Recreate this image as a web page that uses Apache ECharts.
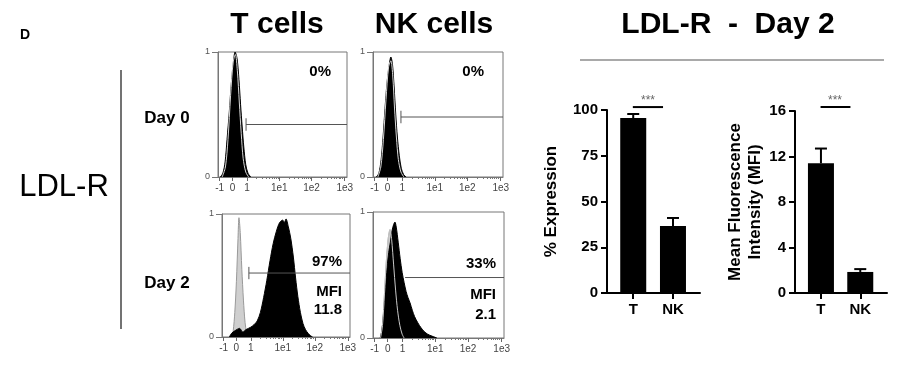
<!DOCTYPE html>
<html>
<head>
<meta charset="utf-8">
<script src="https://cdn.jsdelivr.net/npm/echarts@6/dist/echarts.min.js"></script>
<style>
html, body { margin: 0; padding: 0; background: #fff; }
#main { width: 914px; height: 376px; }
</style>
</head>
<body>
<div id="main"></div>
<script>
// 直方图横轴刻度 (biexponential 显示单位)
var histTicks = [0, 0.4, 0.85, 1.85, 2.85, 3.88];
var histTickLabels = ['-1', '0', '1', '1e1', '1e2', '1e3'];
var decadeStarts = [0.85, 1.85, 2.85];

// T cells Day 0
var tDay0 = [[0.02,0],[0.1,0.03],[0.17,0.12],[0.23,0.3],[0.3,0.52],[0.36,0.74],[0.42,0.9],[0.48,1.0],[0.54,0.95],[0.6,0.78],[0.65,0.58],[0.7,0.4],[0.75,0.24],[0.81,0.1],[0.88,0.03],[0.97,0]];
var tDay0Ctrl = [[0.08,0],[0.18,0.08],[0.26,0.3],[0.34,0.65],[0.42,0.92],[0.49,0.98],[0.55,0.85],[0.61,0.6],[0.67,0.35],[0.73,0.15],[0.81,0.04],[0.9,0]];
// NK cells Day 0
var nkDay0 = [[0.05,0],[0.13,0.03],[0.2,0.14],[0.26,0.32],[0.32,0.55],[0.38,0.75],[0.44,0.88],[0.5,0.96],[0.55,0.9],[0.6,0.72],[0.65,0.5],[0.7,0.32],[0.76,0.17],[0.82,0.07],[0.89,0.02],[0.97,0]];
var nkDay0Ctrl = [[0.1,0],[0.19,0.08],[0.27,0.3],[0.35,0.62],[0.43,0.88],[0.5,0.93],[0.56,0.8],[0.61,0.56],[0.67,0.32],[0.73,0.14],[0.81,0.04],[0.9,0]];
// T cells Day 2
var tDay2 = [[0.18,0],[0.25,0.03],[0.35,0.05],[0.5,0.07],[0.6,0.04],[0.7,0.06],[0.85,0.08],[0.95,0.1],[1.05,0.13],[1.15,0.2],[1.25,0.32],[1.35,0.46],[1.45,0.62],[1.55,0.76],[1.65,0.86],[1.75,0.93],[1.85,0.95],[1.9,0.93],[1.95,0.96],[2.02,0.9],[2.1,0.8],[2.18,0.65],[2.25,0.48],[2.32,0.33],[2.4,0.2],[2.48,0.11],[2.56,0.06],[2.64,0.03],[2.72,0.01],[2.78,0]];
var tDay2Ctrl = [[0.25,0],[0.3,0.05],[0.35,0.2],[0.4,0.45],[0.45,0.8],[0.48,0.97],[0.52,0.85],[0.57,0.55],[0.62,0.3],[0.67,0.12],[0.72,0.03],[0.76,0]];
// NK cells Day 2
var nkDay2 = [[0.17,0],[0.22,0.06],[0.28,0.22],[0.33,0.4],[0.38,0.56],[0.43,0.68],[0.48,0.76],[0.53,0.85],[0.58,0.9],[0.62,0.92],[0.66,0.88],[0.72,0.76],[0.78,0.63],[0.84,0.52],[0.9,0.44],[0.96,0.37],[1.02,0.32],[1.08,0.28],[1.15,0.22],[1.22,0.17],[1.32,0.12],[1.42,0.08],[1.52,0.05],[1.62,0.03],[1.75,0.015],[1.9,0]];
var nkDay2Ctrl = [[0.18,0],[0.24,0.1],[0.3,0.35],[0.36,0.62],[0.42,0.8],[0.47,0.86],[0.52,0.78],[0.58,0.58],[0.64,0.38],[0.7,0.22],[0.77,0.1],[0.84,0.03],[0.9,0]];

// 门 (gate): [起点, 高度]
var gates = [[0.82, 0.42], [0.81, 0.48], [0.79, 0.52], [0.93, 0.48]];

// 柱状图数据
var barCats = ['T', 'NK'];
var expMean = [95.6, 36.6];
var expErr = [97.8, 41.0];
var mfiMean = [11.4, 1.85];
var mfiErr = [12.7, 2.1];

var FONT = '"Liberation Sans", Arial, sans-serif';

var minorTicks = [];
for (var d = 0; d < decadeStarts.length; d++) {
    for (var k = 2; k < 10; k++) {
        minorTicks.push(decadeStarts[d] + Math.log10(k));
    }
}

var histGrids = [
    {left: 218, top: 52, width: 129, height: 125},
    {left: 373, top: 52, width: 130, height: 125},
    {left: 222, top: 214, width: 128, height: 123},
    {left: 373, top: 212, width: 131, height: 126}
];

var grids = [];
var xAxes = [];
var yAxes = [];
var series = [];

for (var i = 0; i < histGrids.length; i++) {
    var g = histGrids[i];
    grids.push({left: g.left, top: g.top, width: g.width, height: g.height,
        show: true, borderColor: '#777', borderWidth: 1, backgroundColor: 'transparent'});
    // 主刻度
    xAxes.push({type: 'value', gridIndex: i, position: 'bottom', min: -0.05, max: 3.95,
        axisLine: {show: true, onZero: false, lineStyle: {color: '#777'}},
        axisTick: {show: true, length: 4, customValues: histTicks, lineStyle: {color: '#666'}},
        axisLabel: {customValues: histTicks, fontSize: 10, color: '#444', margin: 6, fontFamily: FONT,
            formatter: function (v) {
                var idx = histTicks.indexOf(v);
                return idx >= 0 ? histTickLabels[idx] : '';
            }},
        splitLine: {show: false}});
    // 次刻度
    xAxes.push({type: 'value', gridIndex: i, position: 'bottom', min: -0.05, max: 3.95,
        axisLine: {show: false, onZero: false},
        axisTick: {show: true, length: 2, customValues: minorTicks, lineStyle: {color: '#777'}},
        axisLabel: {show: false},
        splitLine: {show: false}});
    yAxes.push({type: 'value', gridIndex: i, min: 0, max: 1, interval: 1,
        axisLine: {show: true, onZero: false, lineStyle: {color: '#777'}},
        axisTick: {show: true, length: 6, lineStyle: {color: '#777'}},
        axisLabel: {fontSize: 9, color: '#555', margin: 8, fontFamily: FONT},
        splitLine: {show: false}});
}

function histSeries(idx, data, fill, line, z) {
    return {type: 'line', xAxisIndex: idx * 2, yAxisIndex: idx, data: data,
        symbol: 'none', smooth: 0.3, z: z, silent: true,
        lineStyle: {color: line, width: 1},
        areaStyle: fill ? {color: fill, opacity: 1} : undefined};
}
function ctrlLine(idx, data, color, z) {
    return {type: 'line', xAxisIndex: idx * 2, yAxisIndex: idx, data: data,
        symbol: 'none', smooth: 0.3, z: z, silent: true,
        lineStyle: {color: color, width: 1}};
}

// Day 0
series.push(histSeries(0, tDay0, '#000', '#000', 2));
series.push(ctrlLine(0, tDay0Ctrl, '#d8d8d8', 3));
series.push(histSeries(1, nkDay0, '#000', '#000', 2));
series.push(ctrlLine(1, nkDay0Ctrl, '#d8d8d8', 3));
// Day 2
series.push(histSeries(2, tDay2Ctrl, '#cfcfcf', '#999', 1));
series.push(histSeries(2, tDay2, '#000', '#000', 2));
series.push(histSeries(3, nkDay2Ctrl, '#cfcfcf', '#999', 1));
series.push(histSeries(3, nkDay2, '#000', '#000', 2));
series.push(ctrlLine(3, nkDay2Ctrl, '#c8c8c8', 3));

// gates
for (var j = 0; j < gates.length; j++) {
    var gx = gates[j][0], gy = gates[j][1];
    series.push({type: 'line', xAxisIndex: j * 2, yAxisIndex: j, symbol: 'none', silent: true, z: 4,
        lineStyle: {color: '#555', width: 1}, data: [[gx, gy], [3.95, gy]]});
    if (j < 3) {
        series.push({type: 'line', xAxisIndex: j * 2, yAxisIndex: j, symbol: 'none', silent: true, z: 4,
            lineStyle: {color: '#555', width: 1}, data: [[gx, gy - 0.05], [gx, gy + 0.05]]});
    }
}

// 柱状图区域
var barGrids = [
    {left: 607, top: 110, width: 93, height: 183, max: 100, interval: 25, mean: expMean, err: expErr, sig: 101.6,
        name: '% Expression', nameGap: 46},
    {left: 795, top: 111, width: 92, height: 182, max: 16, interval: 4, mean: mfiMean, err: mfiErr, sig: 16.35,
        name: 'Mean Fluorescence\nIntensity (MFI)', nameGap: 30}
];

// 误差线 (只画上半)
function errorItem(params, api) {
    var p1 = api.coord([api.value(0), api.value(1)]);
    var p2 = api.coord([api.value(0), api.value(2)]);
    return {type: 'group', children: [
        {type: 'line', shape: {x1: p1[0], y1: p1[1], x2: p2[0], y2: p2[1]}, style: {stroke: '#000', lineWidth: 2}},
        {type: 'line', shape: {x1: p2[0] - 6, y1: p2[1], x2: p2[0] + 6, y2: p2[1]}, style: {stroke: '#000', lineWidth: 2}}
    ]};
}
// 显著性横线
function sigItem(params, api) {
    var a = api.coord([api.value(0), api.value(2)]);
    var e = api.coord([api.value(1), api.value(2)]);
    return {type: 'line', shape: {x1: a[0], y1: a[1], x2: e[0], y2: e[1]}, style: {stroke: '#000', lineWidth: 2}};
}

for (var b = 0; b < barGrids.length; b++) {
    var bg = barGrids[b];
    var gi = 4 + b;
    grids.push({left: bg.left, top: bg.top, width: bg.width, height: bg.height});
    xAxes.push({type: 'value', gridIndex: gi, min: -0.66, max: 1.68,
        axisLine: {show: true, onZero: false, lineStyle: {color: '#000', width: 2}},
        axisTick: {show: true, length: 6, customValues: [0, 1], lineStyle: {color: '#000', width: 2}},
        axisLabel: {customValues: [0, 1], fontSize: 15, fontWeight: 'bold', color: '#000', margin: 9, fontFamily: FONT,
            formatter: function (v) { return barCats[v]; }},
        splitLine: {show: false}});
    yAxes.push({type: 'value', gridIndex: gi, min: 0, max: bg.max, interval: bg.interval,
        name: bg.name, nameLocation: 'middle', nameGap: bg.nameGap, nameRotate: 90,
        nameTextStyle: {fontSize: 17, fontWeight: 'bold', color: '#000', fontFamily: FONT, lineHeight: 20, align: 'center'},
        axisLine: {show: true, onZero: false, lineStyle: {color: '#000', width: 2}},
        axisTick: {show: true, length: 6, lineStyle: {color: '#000', width: 2}},
        axisLabel: {fontSize: 15, fontWeight: 'bold', color: '#000', margin: 9, fontFamily: FONT},
        splitLine: {show: false}});

    var barData = [], errData = [];
    for (var c = 0; c < barCats.length; c++) {
        barData.push([c, bg.mean[c]]);
        errData.push([c, bg.mean[c], bg.err[c]]);
    }
    series.push({type: 'bar', xAxisIndex: 8 + b, yAxisIndex: gi, data: barData, barWidth: 26,
        itemStyle: {color: '#000'}, silent: true, z: 2});
    series.push({type: 'custom', xAxisIndex: 8 + b, yAxisIndex: gi, data: errData,
        encode: {x: 0, y: [1, 2]}, renderItem: errorItem, z: 3, silent: true});
    series.push({type: 'custom', xAxisIndex: 8 + b, yAxisIndex: gi, data: [[-0.01, 0.75, bg.sig]],
        encode: {x: [0, 1], y: 2}, renderItem: sigItem, clip: false, z: 3, silent: true});
}

function txt(x, y, s, size, opts) {
    opts = opts || {};
    return {type: 'text', x: x, y: y, silent: true,
        style: {text: s, fontSize: size, fontWeight: opts.weight || 'bold', fontFamily: FONT,
            fill: opts.color || '#000', align: opts.align || 'center', verticalAlign: 'middle'}};
}

var graphics = [
    txt(25, 35, 'D', 14),
    txt(277, 25, 'T cells', 30),
    txt(434, 25, 'NK cells', 30),
    txt(728, 25, 'LDL-R  -  Day 2', 30),
    {type: 'line', shape: {x1: 580, y1: 60, x2: 884, y2: 60}, style: {stroke: '#555', lineWidth: 1.2}, silent: true},
    txt(64, 187, 'LDL-R', 31, {weight: 'normal'}),
    {type: 'line', shape: {x1: 121, y1: 70, x2: 121, y2: 329}, style: {stroke: '#444', lineWidth: 1.5}, silent: true},
    txt(167, 118, 'Day 0', 17),
    txt(167, 283, 'Day 2', 17),
    txt(331, 72, '0%', 15, {align: 'right'}),
    txt(484, 72, '0%', 15, {align: 'right'}),
    txt(342, 262, '97%', 15, {align: 'right'}),
    txt(342, 292, 'MFI', 15, {align: 'right'}),
    txt(342, 310, '11.8', 15, {align: 'right'}),
    txt(496, 264, '33%', 15, {align: 'right'}),
    txt(496, 295, 'MFI', 15, {align: 'right'}),
    txt(496, 315, '2.1', 15, {align: 'right'}),
    txt(648, 101, '***', 12, {color: '#666', weight: 'normal'}),
    txt(835, 101, '***', 12, {color: '#666', weight: 'normal'})
];

var chart = echarts.init(document.getElementById('main'), null, {renderer: 'canvas'});
chart.setOption({
    animation: false,
    backgroundColor: '#fff',
    grid: grids,
    xAxis: xAxes,
    yAxis: yAxes,
    series: series,
    graphic: graphics
});
</script>
</body>
</html>
